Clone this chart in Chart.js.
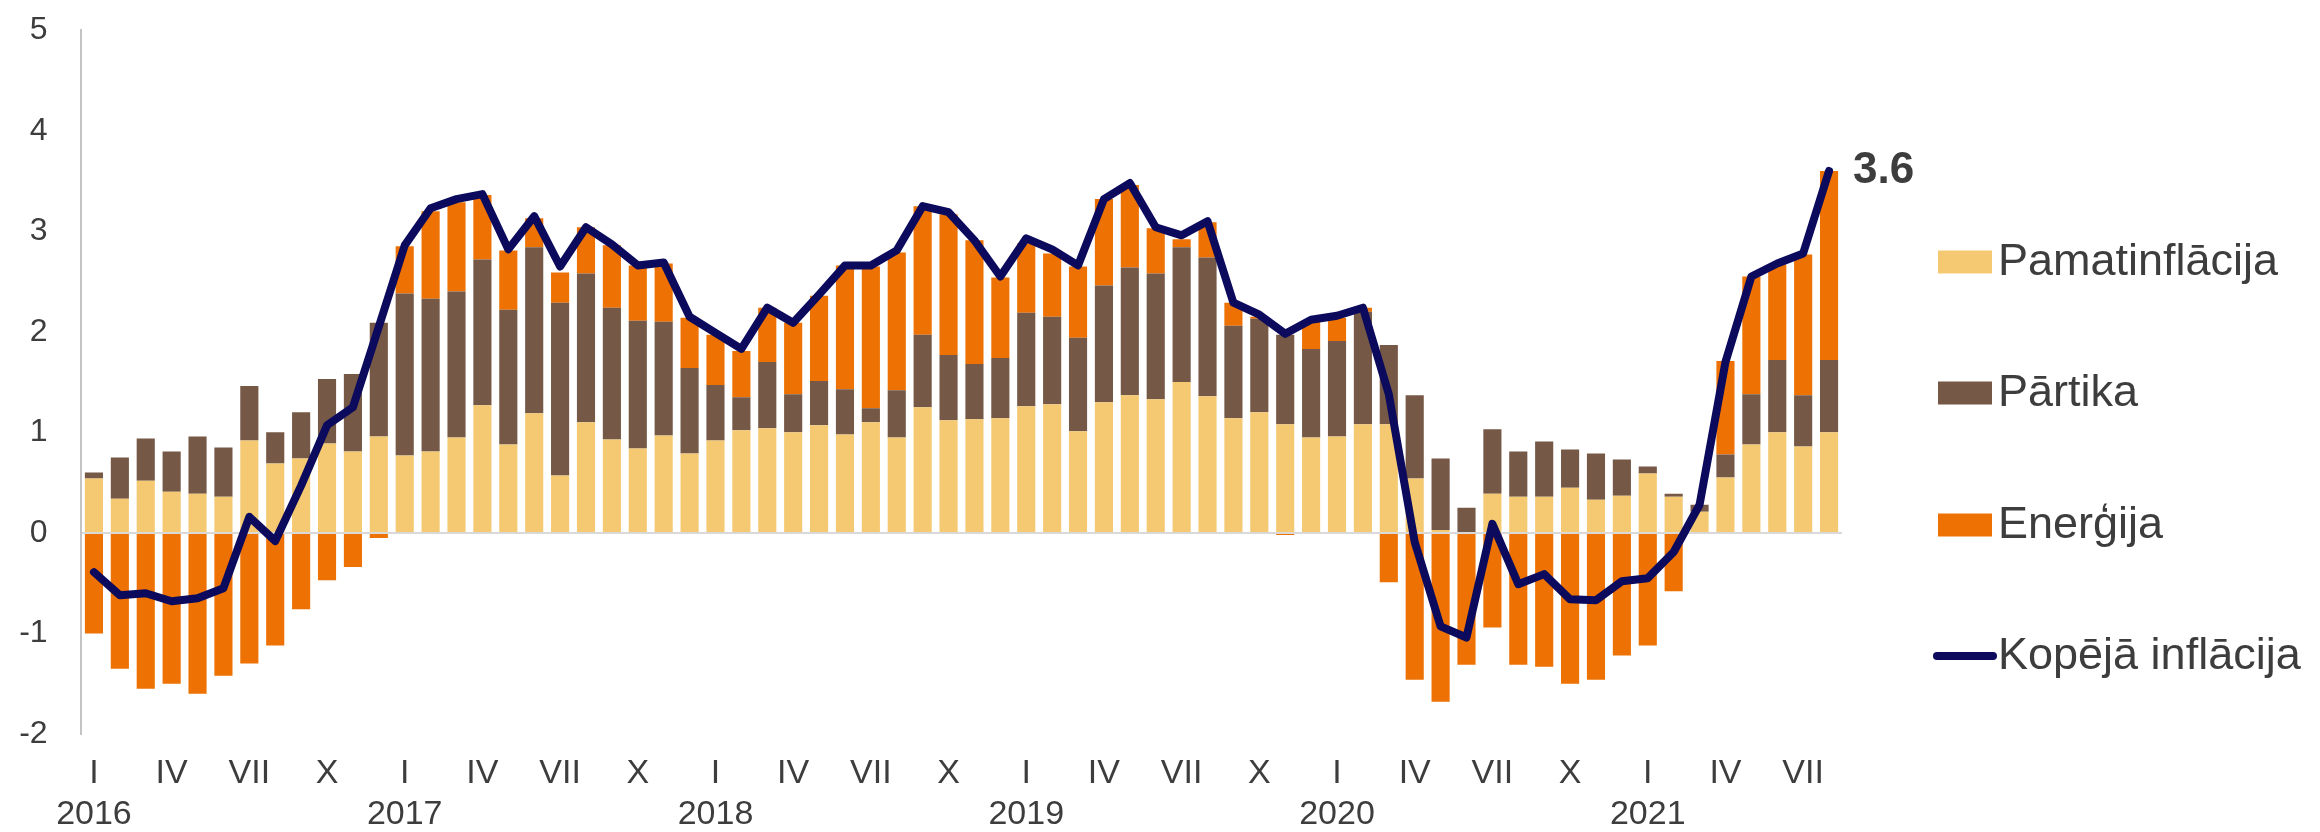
<!DOCTYPE html>
<html>
<head>
<meta charset="utf-8">
<script src="https://cdn.jsdelivr.net/npm/chart.js@4.4.1/dist/chart.umd.min.js"></script>
<style>
  html, body { margin: 0; padding: 0; background: #ffffff; }
  #wrap { width: 2320px; height: 832px; position: relative; }
</style>
</head>
<body>
<div id="wrap"><canvas id="c" width="2320" height="832"></canvas></div>
<script>
// ---- Data ----
const years = ['2016', '2017', '2018', '2019', '2020', '2021'];
const romanMonths = ['I','II','III','IV','V','VI','VII','VIII','IX','X','XI','XII'];
const shownMonths = ['I', 'IV', 'VII', 'X'];
const monthCount = 68; // Jan 2016 .. Aug 2021

const seriesNames = ['Pamatinflācija', 'Pārtika', 'Enerģija', 'Kopējā inflācija'];

const coreInflation = [
  0.54, 0.34, 0.52, 0.41, 0.39, 0.36, 0.92, 0.69, 0.74, 0.89, 0.81, 0.96,
  0.77, 0.81, 0.95, 1.27, 0.88, 1.19, 0.57, 1.10, 0.93, 0.84, 0.97, 0.79,
  0.92, 1.02, 1.04, 1.00, 1.07, 0.98, 1.10, 0.95, 1.25, 1.12, 1.13, 1.14,
  1.26, 1.28, 1.01, 1.30, 1.37, 1.33, 1.50, 1.36, 1.14, 1.20, 1.08, 0.95,
  0.96, 1.08, 1.08, 0.54, 0.03, 0.01, 0.39, 0.36, 0.36, 0.45, 0.33, 0.37,
  0.59, 0.36, 0.21, 0.55, 0.88, 1.00, 0.86, 1.00
];
const food = [
  0.06, 0.41, 0.42, 0.40, 0.57, 0.49, 0.54, 0.31, 0.46, 0.64, 0.77, 1.13,
  1.61, 1.52, 1.45, 1.45, 1.34, 1.65, 1.72, 1.48, 1.31, 1.27, 1.13, 0.85,
  0.55, 0.33, 0.66, 0.38, 0.44, 0.45, 0.14, 0.47, 0.72, 0.65, 0.55, 0.60,
  0.93, 0.87, 0.93, 1.16, 1.27, 1.25, 1.34, 1.38, 0.92, 0.93, 0.89, 0.88,
  0.95, 1.12, 0.79, 0.83, 0.71, 0.24, 0.64, 0.45, 0.55, 0.38, 0.46, 0.36,
  0.07, 0.03, 0.07, 0.23, 0.50, 0.72, 0.51, 0.72
];
const energy = [
  -1.00, -1.35, -1.55, -1.50, -1.60, -1.42, -1.30, -1.12, -0.76, -0.47, -0.34, -0.05,
   0.47,  0.87,  0.89,  0.64,  0.59,  0.29,  0.30,  0.46,  0.62,  0.55,  0.58,  0.50,
   0.50,  0.46,  0.54,  0.71,  0.85,  1.23,  1.41,  1.37,  1.28,  1.40,  1.23,  0.80,
   0.69,  0.63,  0.71,  0.86,  0.82,  0.45,  0.08,  0.35,  0.23,  0.02, -0.02,  0.27,
   0.23,  0.04, -0.49, -1.46, -1.68, -1.31, -0.94, -1.31, -1.33, -1.50, -1.46, -1.22,
  -1.12, -0.58,  0.00,  0.93,  1.17,  0.95,  1.40,  1.88
];
const totalInflation = [
  -0.39, -0.62, -0.60, -0.68, -0.65, -0.55,  0.16, -0.08,  0.47,  1.07,  1.25,  2.05,
   2.86,  3.23,  3.32,  3.37,  2.82,  3.15,  2.65,  3.04,  2.87,  2.66,  2.69,  2.15,
   1.99,  1.83,  2.24,  2.09,  2.37,  2.66,  2.66,  2.81,  3.25,  3.19,  2.91,  2.55,
   2.93,  2.82,  2.66,  3.32,  3.48,  3.04,  2.96,  3.10,  2.29,  2.17,  1.98,  2.12,
   2.16,  2.24,  1.38, -0.09, -0.93, -1.04,  0.09, -0.51, -0.41, -0.66, -0.67, -0.48,
  -0.45, -0.19,  0.28,  1.70,  2.55,  2.68,  2.78,  3.60
];
const yTicks = [-2, -1, 0, 1, 2, 3, 4, 5];
const lastValueLabel = '3.6';

// categories: one per month
const categories = [];
for (let i = 0; i < monthCount; i++) {
  categories.push(romanMonths[i % 12] + ' ' + years[Math.floor(i / 12)]);
}

// ---- Styles ----
const COLORS = {
  core: '#F5C972',
  food: '#755846',
  energy: '#EE7203',
  line: '#0B0A5C',
  text: '#3d3d3d',
  axis: '#c4c4c4',
  zero: '#d9d9d9'
};
const FONT = "'Liberation Sans', Arial, Helvetica, sans-serif";

const legendPlugin = {
  id: 'customLegend',
  afterDraw(chart) {
    const ctx = chart.ctx;
    ctx.save();
    const items = [
      { label: seriesNames[0], color: COLORS.core, kind: 'box', y: 262 },
      { label: seriesNames[1], color: COLORS.food, kind: 'box', y: 393 },
      { label: seriesNames[2], color: COLORS.energy, kind: 'box', y: 525 },
      { label: seriesNames[3], color: COLORS.line, kind: 'line', y: 656 }
    ];
    ctx.font = '45px ' + FONT;
    ctx.textBaseline = 'middle';
    ctx.textAlign = 'left';
    items.forEach(it => {
      if (it.kind === 'box') {
        ctx.fillStyle = it.color;
        ctx.fillRect(1938, it.y - 11.5, 54, 23);
      } else {
        ctx.strokeStyle = it.color;
        ctx.lineWidth = 8;
        ctx.lineCap = 'round';
        ctx.beginPath();
        ctx.moveTo(1937, it.y);
        ctx.lineTo(1993, it.y);
        ctx.stroke();
      }
      ctx.fillStyle = COLORS.text;
      ctx.fillText(it.label, 1998, it.y + 1);
    });

    // end-value label
    const meta = chart.getDatasetMeta(3);
    const pt = meta.data[meta.data.length - 1];
    ctx.font = 'bold 44px ' + FONT;
    ctx.fillStyle = COLORS.text;
    ctx.fillText(lastValueLabel, pt.x + 24, pt.y);
    ctx.restore();
  }
};

new Chart(document.getElementById('c'), {
  data: {
    labels: categories,
    datasets: [
      { type: 'bar', label: seriesNames[0], data: coreInflation, backgroundColor: COLORS.core, stack: 'bars', order: 1 },
      { type: 'bar', label: seriesNames[1], data: food, backgroundColor: COLORS.food, stack: 'bars', order: 1 },
      { type: 'bar', label: seriesNames[2], data: energy, backgroundColor: COLORS.energy, stack: 'bars', order: 1 },
      { type: 'line', label: seriesNames[3], data: totalInflation, borderColor: COLORS.line, borderWidth: 8,
        pointRadius: 0, tension: 0, stack: 'line', order: 0, borderJoinStyle: 'round', borderCapStyle: 'round' }
    ]
  },
  options: {
    responsive: false,
    animation: false,
    devicePixelRatio: 1,
    layout: { padding: { left: 0, right: 478, top: 0, bottom: 0 } },
    datasets: { bar: { categoryPercentage: 1.0, barPercentage: 0.7 } },
    plugins: { legend: { display: false }, tooltip: { enabled: false } },
    scales: {
      x: {
        stacked: true,
        offset: true,
        grid: { display: false, drawTicks: false },
        border: { display: false },
        afterFit(scale) { scale.height = 98; },
        ticks: {
          autoSkip: false,
          maxRotation: 0,
          minRotation: 0,
          padding: 19,
          color: COLORS.text,
          font: { family: FONT, size: 34, lineHeight: 1.2 },
          callback(value, index) {
            const m = romanMonths[index % 12];
            if (index % 12 === 0) return [m, years[Math.floor(index / 12)]];
            return shownMonths.includes(m) ? m : '';
          }
        }
      },
      y: {
        stacked: true,
        min: yTicks[0],
        max: yTicks[yTicks.length - 1],
        afterFit(scale) { scale.width = 81; },
        afterBuildTicks(scale) { scale.ticks = yTicks.map(v => ({ value: v })); },
        border: { display: true, color: COLORS.axis, width: 2 },
        grid: {
          drawTicks: false,
          color: ctx => (ctx.tick && ctx.tick.value === 0) ? COLORS.zero : 'rgba(0,0,0,0)',
          lineWidth: 2
        },
        ticks: {
          padding: 11,
          color: COLORS.text,
          font: { family: FONT, size: 32 },
          callback: v => String(v) + '\u2002\u2009'
        }
      }
    }
  },
  plugins: [legendPlugin]
});
</script>
</body>
</html>
